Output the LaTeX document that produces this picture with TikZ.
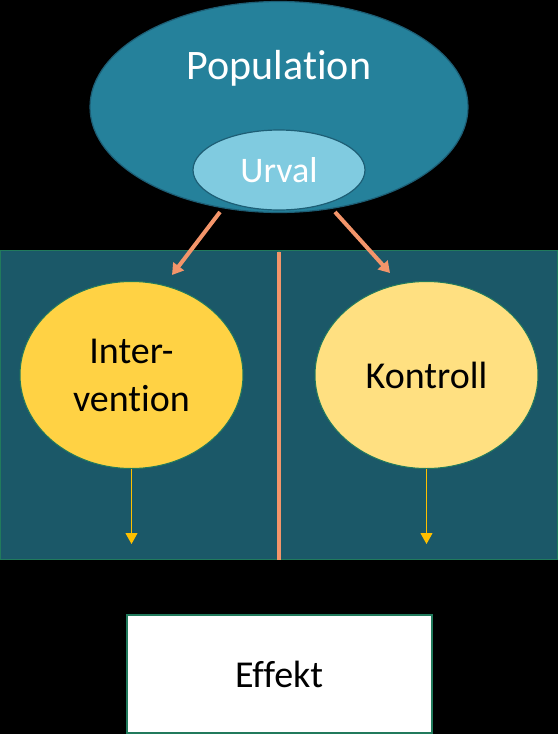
\documentclass[tikz,border=0pt]{standalone}
\usepackage{fontspec}
\setmainfont[Ligatures=NoCommon]{Carlito}
\usetikzlibrary{arrows.meta,shapes.geometric}
\definecolor{popfill}{HTML}{25819B}
\definecolor{popline}{HTML}{1D5E75}
\definecolor{urvfill}{HTML}{80CBE0}
\definecolor{panelfill}{HTML}{1B5868}
\definecolor{panelline}{HTML}{217A5C}
\definecolor{intfill}{HTML}{FFD244}
\definecolor{konfill}{HTML}{FFE081}
\definecolor{salmon}{HTML}{F4956A}
\definecolor{gold}{HTML}{FFC000}
\begin{document}
\begin{tikzpicture}[x=1pt,y=-1pt,
  blob/.style={ellipse, inner sep=0pt, draw=popline, line width=1.2pt},
  group/.style={ellipse, inner sep=0pt, draw=panelline, line width=1pt, text=black, align=center, font=\fontsize{38}{48}\selectfont},
  panel/.style={fill=panelfill, draw=panelline, line width=1.2pt},
  split/.style={draw=salmon, line width=4pt, -{Triangle[length=11pt,width=13pt]}},
  flow/.style={draw=gold, line width=1pt, -{Triangle[length=11pt,width=12pt]}}]
\useasboundingbox (0,0) rectangle (558,734);
\fill[black] (0,0) rectangle (558,734);
% panels
\path[panel] (0.6,250.6) rectangle (279,559.4);
\path[panel] (279,250.6) rectangle (557.4,559.4);
\draw[salmon, line width=4pt] (279,252) -- (279,560);
% population
\node[blob, fill=popfill, minimum width=378pt, minimum height=211pt] (pop) at (279,107) {};
\node[text=white, font=\fontsize{42}{50}\selectfont] (poplabel) at (279,68) {Population};
\node[blob, fill=urvfill, minimum width=172pt, minimum height=80pt, text=white, font=\fontsize{36}{42}\selectfont] (urv) at (279,170) {Urval};
% groups
\node[group, fill=intfill, minimum width=223pt, minimum height=187pt] (int) at (131.5,375) {Inter-\\vention};
\node[group, fill=konfill, minimum width=223pt, minimum height=187pt] (kon) at (426.5,375) {Kontroll};
% split arrows
\coordinate (lstart) at (220,212);
\coordinate (rstart) at (335,212);
\coordinate (ltip) at (172,275);
\coordinate (rtip) at (390,273);
\draw[split] (lstart) -- (ltip);
\draw[split] (rstart) -- (rtip);
% flow arrows
\coordinate (lend) at (131.5,544);
\coordinate (rend) at (426.5,544);
\draw[flow] (int.south) -- (lend);
\draw[flow] (kon.south) -- (rend);
% effect
\node[draw=panelline, line width=2pt, fill=white, minimum width=305pt, minimum height=118pt, inner sep=0pt, font=\fontsize{38}{46}\selectfont] (eff) at (279,674) {Effekt};
\end{tikzpicture}
\end{document}
